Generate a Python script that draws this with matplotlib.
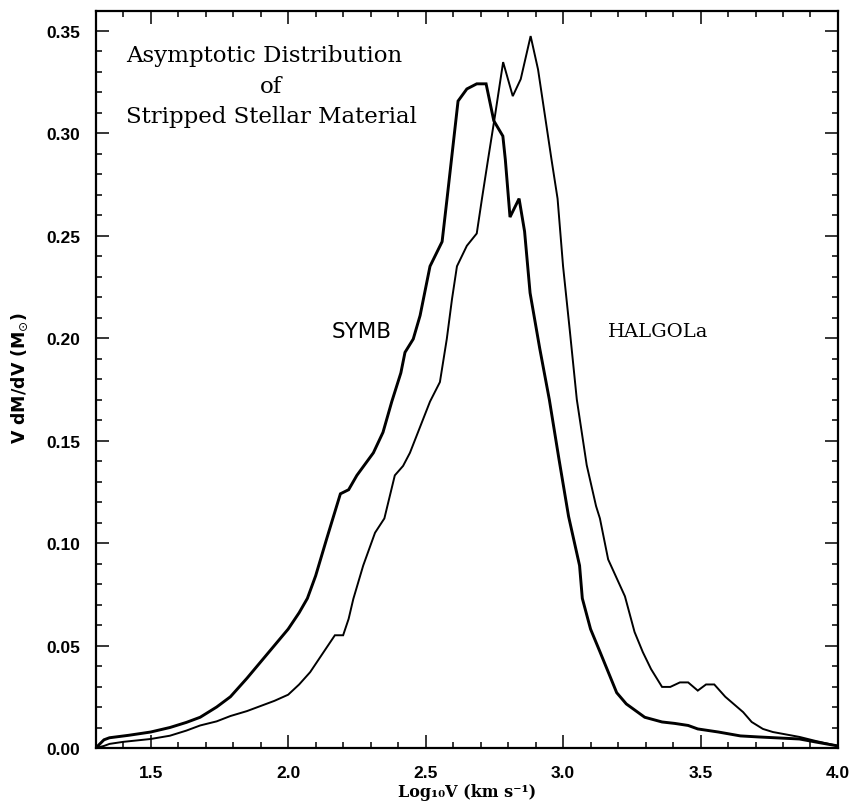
import numpy as np
import matplotlib.pyplot as plt
from matplotlib.ticker import MultipleLocator, FormatStrFormatter

# SYMB curve (thick line)
symb_x = [1.30, 1.33, 1.35, 1.42, 1.50, 1.57, 1.63, 1.68, 1.74, 1.79, 1.85, 1.90,
          1.95, 2.00, 2.04, 2.07, 2.10, 2.14, 2.19, 2.22, 2.25, 2.31, 2.345, 2.377,
          2.41, 2.425, 2.455, 2.48, 2.516, 2.56, 2.578, 2.618, 2.65, 2.686, 2.72,
          2.748, 2.781, 2.79, 2.807, 2.84, 2.86, 2.88, 2.915, 2.95, 2.985, 3.02,
          3.06, 3.07, 3.10, 3.134, 3.195, 3.23, 3.297, 3.36, 3.406, 3.455, 3.49,
          3.565, 3.645, 3.71, 3.86, 3.92, 4.00]
symb_y = [0.000, 0.004, 0.005, 0.0062, 0.0078, 0.0100, 0.0125, 0.015, 0.020, 0.025,
          0.034, 0.042, 0.050, 0.058, 0.066, 0.073, 0.084, 0.102, 0.124, 0.126,
          0.133, 0.144, 0.154, 0.169, 0.183, 0.193, 0.1995, 0.211, 0.235, 0.247,
          0.268, 0.3156, 0.3215, 0.324, 0.324, 0.306, 0.2985, 0.287, 0.259, 0.268,
          0.252, 0.222, 0.195, 0.170, 0.141, 0.113, 0.089, 0.073, 0.058, 0.047,
          0.027, 0.0215, 0.015, 0.0127, 0.012, 0.011, 0.0093, 0.0078, 0.0059,
          0.0054, 0.0044, 0.0029, 0.001]

# HALGOLa curve (thinner line)
halg_x = [1.30, 1.33, 1.35, 1.40, 1.50, 1.57, 1.63, 1.68, 1.74, 1.79, 1.85, 1.90,
          1.95, 2.00, 2.04, 2.08, 2.12, 2.15, 2.17, 2.20, 2.22, 2.237, 2.273, 2.316,
          2.35, 2.388, 2.418, 2.443, 2.516, 2.552, 2.577, 2.596, 2.614, 2.65, 2.686,
          2.705, 2.727, 2.753, 2.782, 2.817, 2.846, 2.882, 2.909, 2.958, 2.98, 3.00,
          3.025, 3.05, 3.086, 3.12, 3.134, 3.164, 3.225, 3.26, 3.29, 3.32, 3.36,
          3.39, 3.425, 3.455, 3.49, 3.52, 3.55, 3.59, 3.655, 3.686, 3.727, 3.763,
          3.86, 3.92, 4.00]
halg_y = [0.000, 0.001, 0.002, 0.003, 0.0044, 0.006, 0.0085, 0.011, 0.013, 0.0156,
          0.018, 0.0205, 0.023, 0.026, 0.031, 0.037, 0.045, 0.051, 0.055, 0.055,
          0.063, 0.0727, 0.089, 0.105, 0.112, 0.133, 0.1376, 0.144, 0.169, 0.1785,
          0.1995, 0.219, 0.235, 0.245, 0.251, 0.268, 0.287, 0.309, 0.3346, 0.318,
          0.3263, 0.3473, 0.331, 0.287, 0.268, 0.235, 0.203, 0.170, 0.138, 0.118,
          0.112, 0.092, 0.074, 0.0566, 0.0468, 0.0385, 0.0298, 0.0298, 0.032, 0.032,
          0.028, 0.031, 0.031, 0.025, 0.0175, 0.0127, 0.0093, 0.0078, 0.0054,
          0.0034, 0.001]

fig = plt.figure(figsize=(8.53, 8.04), dpi=100)
ax = fig.add_axes([0.1122, 0.0684, 0.8702, 0.9166])

ax.plot(symb_x, symb_y, color='black', lw=2.1, solid_joinstyle='miter')
ax.plot(halg_x, halg_y, color='black', lw=1.4, solid_joinstyle='miter')

ax.set_xlim(1.3, 4.0)
ax.set_ylim(0, 0.3595)

ax.xaxis.set_major_locator(MultipleLocator(0.5))
ax.xaxis.set_minor_locator(MultipleLocator(0.1))
ax.yaxis.set_major_locator(MultipleLocator(0.05))
ax.yaxis.set_minor_locator(MultipleLocator(0.01))
ax.yaxis.set_major_formatter(FormatStrFormatter('%.2f'))
ax.xaxis.set_major_formatter(FormatStrFormatter('%.1f'))

ax.tick_params(which='both', direction='in', top=True, right=True, width=1.1)
ax.tick_params(which='major', length=9.5)
ax.tick_params(which='minor', length=4.5)
ax.tick_params(axis='x', which='major', pad=12)
ax.tick_params(axis='y', which='major', pad=11)
for lab in ax.get_xticklabels() + ax.get_yticklabels():
    lab.set_fontfamily('Liberation Sans')
    lab.set_fontweight('bold')
    lab.set_fontsize(12.5)
ax.get_xticklabels()[0].set_visible(False)

for s in ax.spines.values():
    s.set_linewidth(1.6)

fig.text(20 / 853, 1 - 378 / 804, r'V dM/dV (M$_{\odot}$)', rotation=90,
         ha='center', va='center', fontsize=12.5, fontweight='bold',
         family='DejaVu Sans')
fig.text(467 / 853, 1 - 793 / 804, 'Log₁₀V (km s⁻¹)', ha='center', va='center',
         fontsize=11.5, fontweight='bold', family='DejaVu Serif')

# annotations (pixel positions from the figure's top-left)
fig.text(126 / 853, 1 - 56 / 804, 'Asymptotic Distribution', ha='left', va='center',
         fontsize=16.5, family='DejaVu Serif')
fig.text(271 / 853, 1 - 87 / 804, 'of', ha='center', va='center',
         fontsize=16.5, family='DejaVu Serif')
fig.text(126 / 853, 1 - 117 / 804, 'Stripped Stellar Material', ha='left', va='center',
         fontsize=16.5, family='DejaVu Serif')
fig.text(362 / 853, 1 - 332 / 804, 'SYMB', ha='center', va='center',
         fontsize=15.5, family='DejaVu Sans')
fig.text(658 / 853, 1 - 332 / 804, 'HALGOLa', ha='center', va='center',
         fontsize=14, family='DejaVu Serif')

fig.savefig('out.png', dpi=100)
